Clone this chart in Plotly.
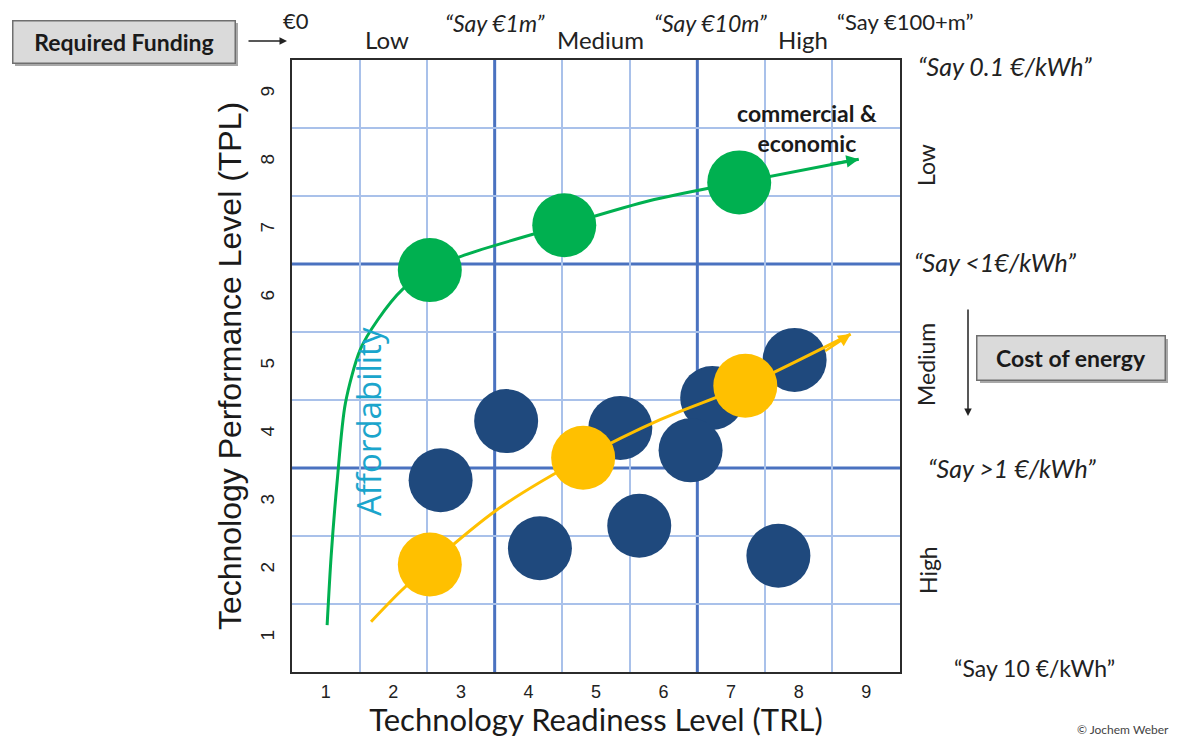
import plotly.graph_objects as go

# ---------------- data ----------------
trl_ticks = [1, 2, 3, 4, 5, 6, 7, 8, 9]
tpl_ticks = [1, 2, 3, 4, 5, 6, 7, 8, 9]
grid_minor = [1.5, 2.5, 3.5, 4.5, 5.5, 6.5, 7.5, 8.5]
funding_bounds = [3.5, 6.5]
cost_bounds = [3.5, 6.5]

green_curve_x = [1.02, 1.08, 1.17, 1.29, 1.51, 1.77, 2.14, 2.54, 3.05, 4.53, 5.79, 7.12, 8.89]
green_curve_y = [1.19, 2.21, 3.32, 4.45, 5.24, 5.68, 6.13, 6.41, 6.63, 7.07, 7.43, 7.70, 8.04]
green_x = [2.54, 4.53, 7.12]
green_y = [6.41, 7.07, 7.70]

yellow_curve_x = [1.67, 2.10, 2.54, 3.54, 4.81, 5.95, 7.21, 8.77]
yellow_curve_y = [1.24, 1.68, 2.08, 2.89, 3.65, 4.21, 4.71, 5.47]
yellow_x = [2.54, 4.81, 7.21]
yellow_y = [2.08, 3.65, 4.71]

blue_x = [2.70, 3.67, 5.36, 6.72, 7.94, 6.40, 4.17, 5.64, 7.70]
blue_y = [3.32, 4.19, 4.09, 4.53, 5.09, 3.76, 2.32, 2.65, 2.21]

funding_labels = ["€0", "Low", "<i>\u201cSay €1m\u201d</i>", "Medium", "<i>\u201cSay €10m\u201d</i>", "High", "\u201cSay €100+m\u201d"]
cost_labels = ["<i>\u201cSay 0.1 €/kWh\u201d</i>", "<i>\u201cSay <1€/kWh\u201d</i>", "<i>\u201cSay >1 €/kWh\u201d</i>", "\u201cSay 10 €/kWh\u201d"]
cost_levels = ["Low", "Medium", "High"]

# ---------------- layout helpers ----------------
PAGE_W, PAGE_H = 1183, 738
BODY_MARGIN = 8                       # browser default page margin
W, H = PAGE_W - BODY_MARGIN, PAGE_H - BODY_MARGIN
L, R, T, B = 292, 900, 60, 672        # plot frame in page pixels


def px(p):
    return (p - L) / (R - L)


def py(p):
    return (B - p) / (B - T)


GREEN = "#00B050"
YELLOW = "#FFC000"
BLUE = "#1F497D"
CALIBRI = "Lato, 'Open Sans', sans-serif"
ARIAL = "'Liberation Sans', Arial, sans-serif"

x_thin = [v for v in grid_minor if v not in funding_bounds]
y_thin = [v for v in grid_minor if v not in cost_bounds]

fig = go.Figure()

fig.add_trace(go.Scatter(x=green_curve_x, y=green_curve_y, mode="lines",
                         line=dict(color=GREEN, width=3, shape="spline", smoothing=0.8),
                         hoverinfo="skip"))
fig.add_trace(go.Scatter(x=green_x, y=green_y, mode="markers",
                         marker=dict(size=64, color=GREEN, line=dict(width=0))))
fig.add_trace(go.Scatter(x=blue_x, y=blue_y, mode="markers",
                         marker=dict(size=64, color=BLUE, line=dict(width=0))))
fig.add_trace(go.Scatter(x=yellow_curve_x, y=yellow_curve_y, mode="lines",
                         line=dict(color=YELLOW, width=3, shape="spline", smoothing=0.8),
                         hoverinfo="skip"))
fig.add_trace(go.Scatter(x=yellow_x, y=yellow_y, mode="markers",
                         marker=dict(size=64, color=YELLOW, line=dict(width=0))))

shapes = []
for v in funding_bounds:
    shapes.append(dict(type="line", xref="x", yref="paper", x0=v, x1=v, y0=0, y1=1,
                       line=dict(color="#4A72C0", width=3), layer="between"))
for v in cost_bounds:
    shapes.append(dict(type="line", xref="paper", yref="y", x0=0, x1=1, y0=v, y1=v,
                       line=dict(color="#4A72C0", width=3), layer="between"))

# box shadows
shapes.append(dict(type="rect", xref="paper", yref="paper",
                   x0=px(15), x1=px(238), y0=py(23), y1=py(66),
                   fillcolor="#a8a8a8", line=dict(width=0), layer="above"))
shapes.append(dict(type="rect", xref="paper", yref="paper",
                   x0=px(980), x1=px(1168), y0=py(339), y1=py(383),
                   fillcolor="#a8a8a8", line=dict(width=0), layer="above"))

annotations = []


def note(xx, yy, text, size, family=CALIBRI, color="#222", angle=0, **kw):
    d = dict(x=px(xx), y=py(yy), xref="paper", yref="paper", text=text, showarrow=False,
             xanchor="center", yanchor="middle", textangle=angle,
             font=dict(family=family, size=size, color=color))
    d.update(kw)
    annotations.append(d)


# arrows at ends of curves
annotations.append(dict(x=green_curve_x[-1], y=green_curve_y[-1], ax=-30, ay=5,
                        xref="x", yref="y",
                        showarrow=True, arrowhead=2, arrowsize=1, arrowwidth=2.5,
                        arrowcolor=GREEN, text="", standoff=0))
annotations.append(dict(x=yellow_curve_x[-1], y=yellow_curve_y[-1], ax=-27, ay=18,
                        xref="x", yref="y",
                        showarrow=True, arrowhead=2, arrowsize=1, arrowwidth=2.5,
                        arrowcolor=YELLOW, text="", standoff=0))

# text inside plot
note(368, 422, "Affordability", 33, family="'Open Sans', sans-serif", color="#1BA5CC", angle=-90)
note(807, 128, "<b>commercial &amp;<br>economic</b>", 23, color="#1a1a1a", align="center")

# top funding labels
top_pos = [(296, 20), (387, 40), (494, 23), (600, 40), (710, 23), (803, 40), (905, 21)]
top_sizes = [22, 24, 23, 24, 23, 24, 22]
for txt, (xx, yy), sz in zip(funding_labels, top_pos, top_sizes):
    note(xx, yy, txt, sz)

# Required Funding box
note(123.5, 41.5, "<b>Required Funding</b>", 23, color="#1a1a1a",
     width=219, height=39, bgcolor="#dadada", bordercolor="#6f6f6f", borderwidth=1.5)
annotations.append(dict(x=px(287), y=py(41), ax=-40, ay=0, xref="paper", yref="paper",
                        showarrow=True, arrowhead=2, arrowwidth=1.5,
                        arrowsize=1, arrowcolor="#222", text="", standoff=0))

# right cost labels
right_pos = [(1005, 66), (995, 262), (1012, 468), (1034, 668)]
right_sizes = [25, 25, 25, 23]
for txt, (xx, yy), sz in zip(cost_labels, right_pos, right_sizes):
    note(xx, yy, txt, sz)
lvl_pos = [(926, 165), (926, 365), (928, 570)]
for txt, (xx, yy) in zip(cost_levels, lvl_pos):
    note(xx, yy, txt, 23, angle=-90)

# Cost of energy box and arrow
note(1071, 358, "<b>Cost of energy</b>", 23, color="#1a1a1a",
     width=185, height=41, bgcolor="#dadada", bordercolor="#6f6f6f", borderwidth=1.5)
annotations.append(dict(x=px(968), y=py(416), ax=0, ay=-108, xref="paper", yref="paper",
                        showarrow=True, arrowhead=2, arrowwidth=1.5,
                        arrowsize=1, arrowcolor="#222", text="", standoff=0))

annotations.append(dict(x=px(1075), y=py(729), xref="paper", yref="paper", text="© Jochem Weber",
                        xanchor="left", yanchor="middle", showarrow=False,
                        font=dict(family=CALIBRI, size=12, color="#444")))

fig.update_layout(
    width=W, height=H,
    margin=dict(l=L - BODY_MARGIN, r=PAGE_W - R, t=T - BODY_MARGIN, b=PAGE_H - B,
                pad=0, autoexpand=False),
    paper_bgcolor="white", plot_bgcolor="white",
    showlegend=False,
    shapes=shapes, annotations=annotations,
    xaxis=dict(range=[0.5, 9.5], tickvals=trl_ticks, showgrid=False, zeroline=False,
               showline=True, mirror=True, linecolor="#2b2b2b", linewidth=2,
               ticks="", ticklabelstandoff=2, automargin=False,
               tickfont=dict(family=ARIAL, size=18, color="#222"),
               minor=dict(tickvals=x_thin, showgrid=True, gridcolor="#A9C1EA", gridwidth=1.5, ticks=""),
               title=dict(text="Technology Readiness Level (TRL)", standoff=0,
                          font=dict(family=CALIBRI, size=31, color="#1a1a1a"))),
    yaxis=dict(range=[0.5, 9.5], tickvals=tpl_ticks, showgrid=False, zeroline=False,
               showline=True, mirror=True, linecolor="#2b2b2b", linewidth=2,
               ticks="", ticklabelstandoff=8, tickangle=-90, automargin=False,
               tickfont=dict(family=ARIAL, size=19, color="#222"),
               minor=dict(tickvals=y_thin, showgrid=True, gridcolor="#A9C1EA", gridwidth=1.5, ticks=""),
               title=dict(text="Technology Performance Level (TPL)", standoff=6,
                          font=dict(family=ARIAL, size=32, color="#1a1a1a"))),
)

fig.write_html("out.html")
